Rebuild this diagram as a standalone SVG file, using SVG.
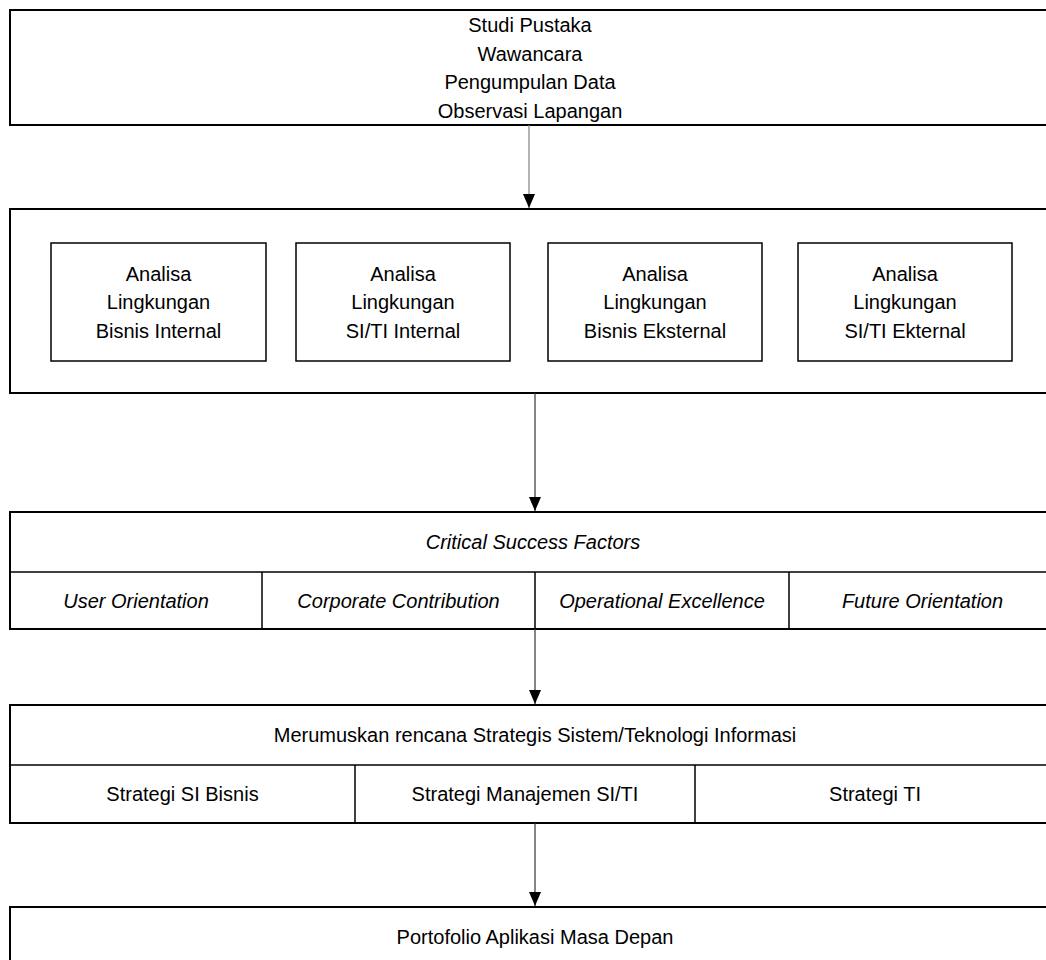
<svg xmlns="http://www.w3.org/2000/svg" width="1046" height="960" viewBox="0 0 1046 960">
  <style>
    .frame { fill: #ffffff; stroke: #000000; stroke-width: 2; }
    .cell { fill: none; stroke: #000000; stroke-width: 1.5; }
    .lbl { font-family: "Liberation Sans", Arial, sans-serif; font-size: 20px; fill: #000000; text-anchor: middle; }
    .it { font-style: italic; }
    .wire { stroke: #333333; stroke-width: 1.2; fill: none; }
    .wire-light { stroke: #808080; }
  </style>
  <defs>
    <marker id="arrowhead" viewBox="0 0 14 12" refX="14" refY="6" markerWidth="14" markerHeight="12" markerUnits="userSpaceOnUse" orient="auto">
      <path d="M0,0 L14,6 L0,12 Z" fill="#000000"/>
    </marker>
  </defs>
  <rect width="1046" height="960" fill="#ffffff"/>

  <!-- data collection methods -->
  <g id="node-metode">
    <rect class="frame" x="10" y="10" width="1046" height="115"/>
    <text class="lbl" x="530" y="32">Studi Pustaka</text>
    <text class="lbl" x="530" y="60.5">Wawancara</text>
    <text class="lbl" x="530" y="89">Pengumpulan Data</text>
    <text class="lbl" x="530" y="117.5">Observasi Lapangan</text>
  </g>

  <!-- environment analysis -->
  <g id="node-analisa">
    <rect class="frame" x="10" y="209" width="1046" height="184"/>
    <g id="node-bisnis-internal">
      <rect class="cell" x="51" y="243" width="215" height="118"/>
      <text class="lbl" x="158.5" y="280.5">Analisa</text>
      <text class="lbl" x="158.5" y="309">Lingkungan</text>
      <text class="lbl" x="158.5" y="337.5">Bisnis Internal</text>
    </g>
    <g id="node-siti-internal">
      <rect class="cell" x="296" y="243" width="214" height="118"/>
      <text class="lbl" x="403" y="280.5">Analisa</text>
      <text class="lbl" x="403" y="309">Lingkungan</text>
      <text class="lbl" x="403" y="337.5">SI/TI Internal</text>
    </g>
    <g id="node-bisnis-eksternal">
      <rect class="cell" x="548" y="243" width="214" height="118"/>
      <text class="lbl" x="655" y="280.5">Analisa</text>
      <text class="lbl" x="655" y="309">Lingkungan</text>
      <text class="lbl" x="655" y="337.5">Bisnis Eksternal</text>
    </g>
    <g id="node-siti-eksternal">
      <rect class="cell" x="798" y="243" width="214" height="118"/>
      <text class="lbl" x="905" y="280.5">Analisa</text>
      <text class="lbl" x="905" y="309">Lingkungan</text>
      <text class="lbl" x="905" y="337.5">SI/TI Ekternal</text>
    </g>
  </g>

  <!-- critical success factors -->
  <g id="node-csf">
    <rect class="frame" x="10" y="512" width="1046" height="117"/>
    <line class="cell" x1="10" y1="572" x2="1056" y2="572"/>
    <line class="cell" x1="262" y1="572" x2="262" y2="629"/>
    <line class="cell" x1="535" y1="572" x2="535" y2="629"/>
    <line class="cell" x1="789" y1="572" x2="789" y2="629"/>
    <text class="lbl it" x="533" y="549">Critical Success Factors</text>
    <text class="lbl it" x="136" y="607.5">User Orientation</text>
    <text class="lbl it" x="398.5" y="607.5">Corporate Contribution</text>
    <text class="lbl it" x="662" y="607.5">Operational Excellence</text>
    <text class="lbl it" x="922.5" y="607.5">Future Orientation</text>
  </g>

  <!-- IS/IT strategy formulation -->
  <g id="node-strategi">
    <rect class="frame" x="10" y="705" width="1046" height="118"/>
    <line class="cell" x1="10" y1="765" x2="1056" y2="765"/>
    <line class="cell" x1="355" y1="765" x2="355" y2="823"/>
    <line class="cell" x1="695" y1="765" x2="695" y2="823"/>
    <text class="lbl" x="535" y="742">Merumuskan rencana Strategis Sistem/Teknologi Informasi</text>
    <text class="lbl" x="182.5" y="801">Strategi SI Bisnis</text>
    <text class="lbl" x="525" y="801">Strategi Manajemen SI/TI</text>
    <text class="lbl" x="875" y="801">Strategi TI</text>
  </g>

  <!-- future application portfolio -->
  <g id="node-portofolio">
    <rect class="frame" x="10" y="907" width="1046" height="80"/>
    <text class="lbl" x="535" y="944">Portofolio Aplikasi Masa Depan</text>
  </g>

  <!-- connectors -->
  <g id="connectors">
    <line class="wire wire-light" x1="529" y1="125" x2="529" y2="208" marker-end="url(#arrowhead)"/>
    <line class="wire" x1="535" y1="393" x2="535" y2="511" marker-end="url(#arrowhead)"/>
    <line class="wire" x1="535" y1="629" x2="535" y2="704" marker-end="url(#arrowhead)"/>
    <line class="wire" x1="535" y1="823" x2="535" y2="906" marker-end="url(#arrowhead)"/>
  </g>
</svg>
